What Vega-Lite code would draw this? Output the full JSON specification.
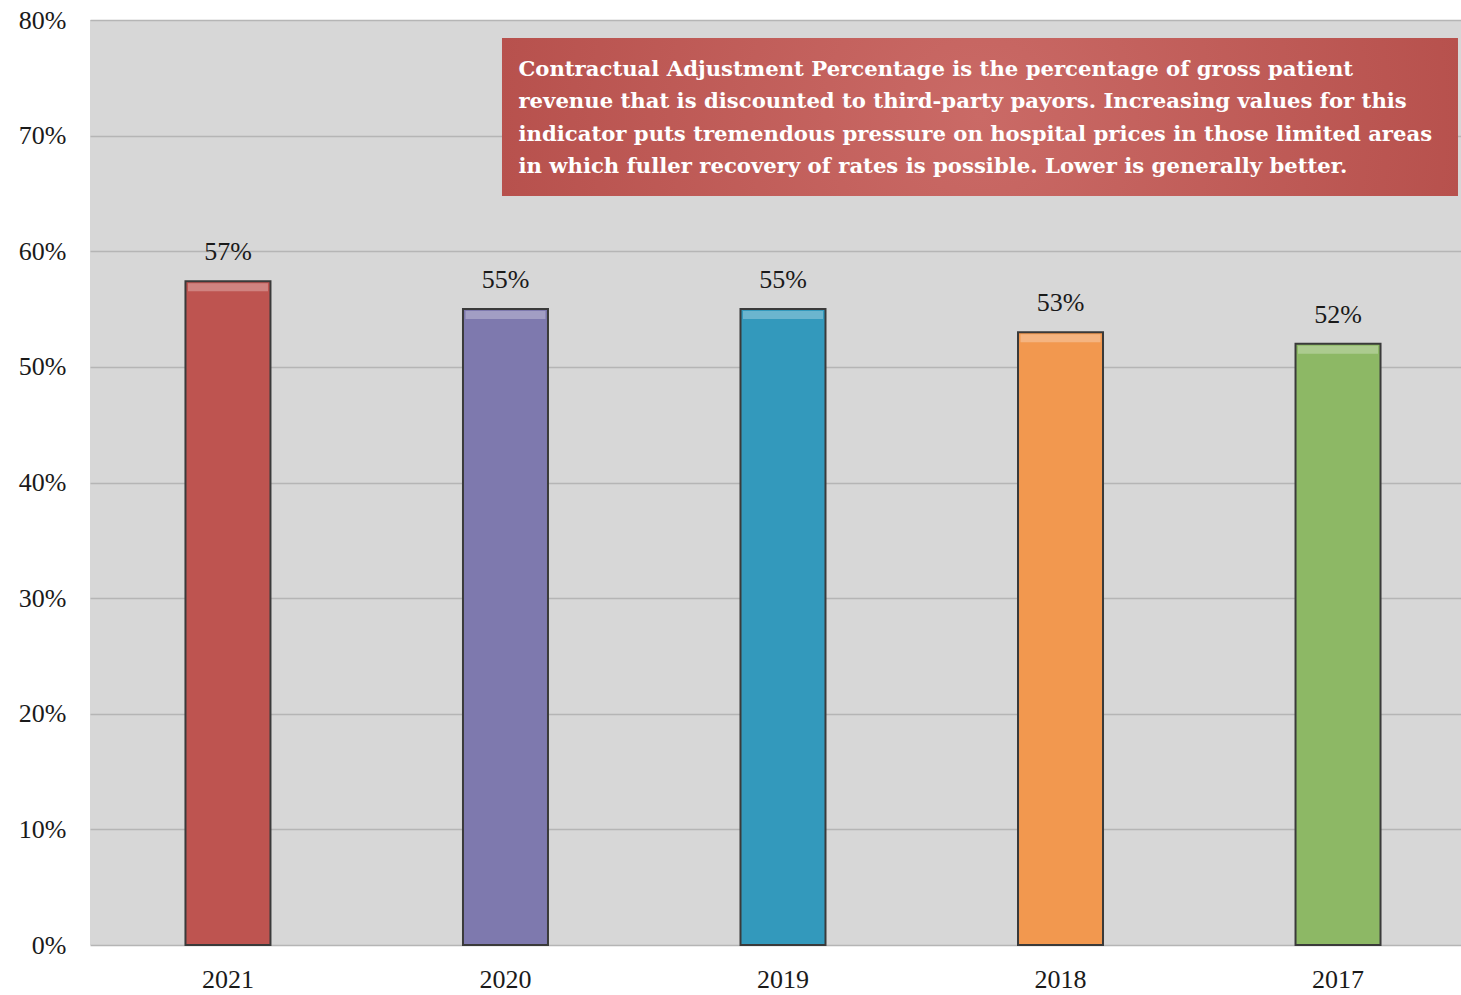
{
  "$schema": "https://vega.github.io/schema/vega-lite/v6.json",
  "width": 1371,
  "height": 925,
  "autosize": "none",
  "padding": {"left": 90, "top": 20, "right": 0, "bottom": 50},
  "background": "white",
  "config": {
    "font": "Liberation Serif",
    "view": {"fill": "#D7D7D7", "stroke": null},
    "axisY": {
      "domain": false,
      "ticks": false,
      "labelFontSize": 26,
      "labelColor": "#1a1a1a",
      "labelPadding": 24,
      "gridColor": "#B5B5B5",
      "gridWidth": 1.5,
      "title": null
    },
    "axisX": {
      "domain": false,
      "ticks": false,
      "grid": false,
      "labelAngle": 0,
      "labelFontSize": 26,
      "labelColor": "#1a1a1a",
      "labelPadding": 21,
      "title": null
    }
  },
  "datasets": {
    "ratios": [
      {"year": "2021", "pct": 0.574},
      {"year": "2020", "pct": 0.55},
      {"year": "2019", "pct": 0.55},
      {"year": "2018", "pct": 0.53},
      {"year": "2017", "pct": 0.52}
    ],
    "note": [
      {
        "lines": [
          "Contractual Adjustment Percentage is the percentage of gross patient",
          "revenue that is discounted to third-party payors. Increasing values for this",
          "indicator puts tremendous pressure on hospital prices in those limited areas",
          "in which fuller recovery of rates is possible. Lower is generally better."
        ]
      }
    ]
  },
  "layer": [
    {
      "data": {"name": "ratios"},
      "encoding": {
        "x": {
          "field": "year",
          "type": "ordinal",
          "sort": null,
          "scale": {"paddingInner": 0.6937, "paddingOuter": 0.317, "align": 0.5426}
        },
        "y": {
          "field": "pct",
          "type": "quantitative",
          "scale": {"domain": [0, 0.8], "nice": false},
          "axis": {
            "format": ".0%",
            "values": [0, 0.1, 0.2, 0.3, 0.4, 0.5, 0.6, 0.7, 0.8]
          }
        }
      },
      "layer": [
        {
          "mark": {"type": "bar", "stroke": "#3a3a3a", "strokeWidth": 2},
          "encoding": {
            "color": {
              "field": "year",
              "type": "nominal",
              "sort": null,
              "scale": {
                "domain": ["2021", "2020", "2019", "2018", "2017"],
                "range": ["#BE5450", "#7E79AE", "#3399BC", "#F2984F", "#8DB865"]
              },
              "legend": null
            }
          }
        },
        {
          "mark": {
            "type": "tick",
            "orient": "horizontal",
            "thickness": 8,
            "size": 80,
            "color": "white",
            "opacity": 0.28,
            "yOffset": 6
          },
          "encoding": {}
        },
        {
          "mark": {
            "type": "text",
            "baseline": "alphabetic",
            "dy": -21,
            "fontSize": 26,
            "color": "#1a1a1a"
          },
          "encoding": {
            "text": {"field": "pct", "type": "quantitative", "format": ".0%"}
          }
        }
      ]
    },
    {
      "data": {"name": "note"},
      "encoding": {
        "x": {
          "datum": 0.3005,
          "type": "quantitative",
          "scale": {"domain": [0, 1], "nice": false, "zero": false},
          "axis": null
        },
        "x2": {"datum": 0.9978},
        "y": {"datum": 0.7844, "type": "quantitative"},
        "y2": {"datum": 0.6478}
      },
      "layer": [
        {
          "mark": {"type": "rect", "fill": "#4a4a4a", "opacity": 0.6, "xOffset": 2, "yOffset": 4}
        },
        {
          "mark": {
            "type": "rect",
            "fill": {
              "gradient": "radial",
              "x1": 0.5, "y1": 0.5, "r1": 0,
              "x2": 0.5, "y2": 0.5, "r2": 0.75,
              "stops": [
                {"offset": 0, "color": "#CA6A66"},
                {"offset": 1, "color": "#AE4541"}
              ]
            }
          }
        },
        {
          "mark": {
            "type": "text",
            "align": "left",
            "baseline": "middle",
            "lineHeight": 32.5,
            "font": "DejaVu Serif",
            "fontSize": 21.2,
            "fontWeight": "bold",
            "color": "white"
          },
          "encoding": {
            "x": {"datum": 0.3125, "type": "quantitative"},
            "y": {"datum": 0.7568, "type": "quantitative"},
            "x2": null,
            "y2": null,
            "text": {"field": "lines", "type": "nominal"}
          }
        }
      ]
    }
  ],
  "resolve": {"scale": {"x": "independent", "color": "independent"}}
}
